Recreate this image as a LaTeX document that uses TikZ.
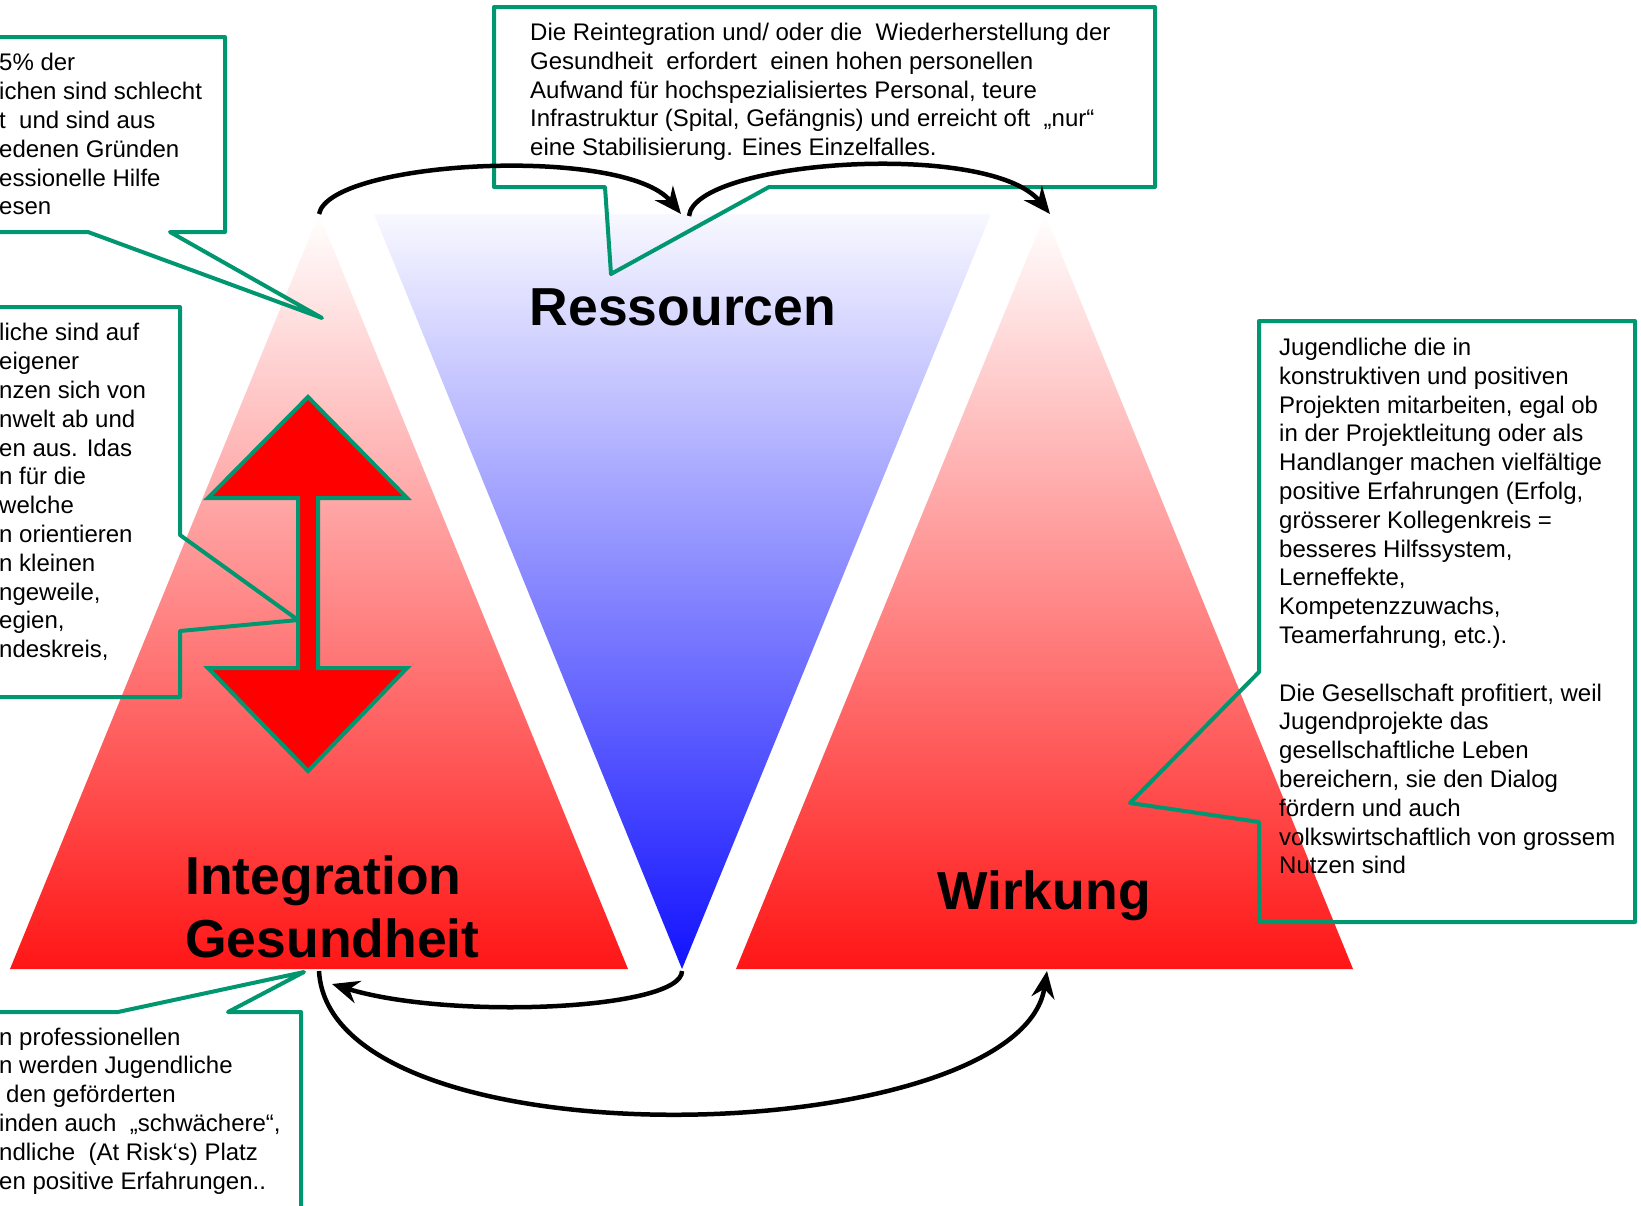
\documentclass[tikz,border=0pt]{standalone}
\usepackage{fontspec}
\setmainfont{Liberation Sans}
\usepackage{tikz}
\usetikzlibrary{arrows.meta}

\definecolor{callgreen}{RGB}{0,150,112}
\definecolor{pyrred}{RGB}{255,22,22}
\definecolor{pyrpink}{RGB}{255,212,212}
\definecolor{pyrblue}{RGB}{18,18,255}
\definecolor{pyrlav}{RGB}{176,176,255}
\definecolor{pyrpale}{RGB}{248,248,255}

\begin{document}
\begin{tikzpicture}[x=1pt,y=-1pt,
  balloon/.style={draw=callgreen,line width=4pt,line join=round},
  note/.style={anchor=north west,inner sep=0pt,align=left,
    font=\fontsize{24}{28.8}\selectfont},
  bigword/.style={anchor=base west,inner sep=0pt,
    font=\fontsize{53.5}{62}\selectfont\bfseries},
  cycarrow/.style={line width=4.5pt,-{Stealth[length=27pt,width=23pt,inset=9pt]}}]
  \useasboundingbox (0,0) rectangle (1641,1205);
  \clip (0,0) rectangle (1641,1205);

  % the three pyramids
  \coordinate (intTop) at (319,214);
  \coordinate (intL) at (10,969);
  \coordinate (intR) at (628,969);
  \coordinate (resL) at (374,214);
  \coordinate (resR) at (991,214);
  \coordinate (resBot) at (682,969);
  \coordinate (wirTop) at (1045,214);
  \coordinate (wirL) at (736,969);
  \coordinate (wirR) at (1353,969);
  \shade[top color=white,middle color=pyrpink,bottom color=pyrred]
    (intTop) -- (intR) -- (intL) -- cycle;
  \shade[top color=pyrpale,middle color=pyrlav,bottom color=pyrblue]
    (resL) -- (resR) -- (resBot) -- cycle;
  \shade[top color=white,middle color=pyrpink,bottom color=pyrred]
    (wirTop) -- (wirR) -- (wirL) -- cycle;

  \node[bigword,anchor=base] (res) at (683,325) {Ressourcen};
  \node[bigword] (integ) at (185,894) {Integration};
  \node[bigword] (gesund) at (185,957) {Gesundheit};
  \node[bigword] (wirk) at (937,909) {Wirkung};

  % double arrow
  \draw[draw=callgreen,line width=4pt,fill=red] (308,397) -- (407,498) -- (318,498)
    -- (318,668) -- (407,668) -- (308,771) -- (208,668) -- (298,668)
    -- (298,498) -- (208,498) -- cycle;

  % callouts
  \coordinate (tipA) at (322,318);
  \coordinate (tipB) at (298,620);
  \coordinate (tipC) at (304,972);
  \coordinate (tipD) at (611,274);
  \coordinate (tipE) at (1130,803);
  \draw[balloon] (-20,37) -- (225,37) -- (225,232) -- (170,232) -- (tipA)
    -- (88,232) -- (-20,232);
  \draw[balloon] (-20,307) -- (180,307) -- (180,535) -- (tipB) -- (180,631)
    -- (180,697) -- (-20,697);
  \draw[balloon] (-20,1012) -- (118,1012) -- (tipC) -- (228,1012) -- (301,1012)
    -- (301,1230);
  \draw[balloon] (494,7) -- (1155,7) -- (1155,187) -- (769,187) -- (tipD)
    -- (605,187) -- (494,187) -- cycle;
  \draw[balloon] (1259,321) -- (1635,321) -- (1635,922) -- (1259,922)
    -- (1259,822) -- (tipE) -- (1259,672) -- cycle;

  \node[note] (txtA) at (-1,50.5) {\strut 5\% der\\ichen sind schlecht\\t\ \ und sind aus\\
    edenen Gründen\\essionelle Hilfe\\esen};
  \node[note] (txtB) at (-1,320.6) {\strut liche sind auf\\eigener\\nzen sich von\\
    nwelt ab und\\en aus. Idas\\n für die\\welche\\n orientieren\\n kleinen\\
    ngeweile,\\egien,\\ndeskreis,};
  \node[note] (txtC) at (-1,1024.8) {\strut n professionellen\\n werden Jugendliche\\
    \hspace*{7pt}den geförderten\\inden auch\ \ „schwächere“,\\
    ndliche\ \ (At Risk‘s) Platz\\en positive Erfahrungen..};
  \node[note] (txtD) at (530,20.2) {\strut Die Reintegration und/ oder die\ \ Wiederherstellung der\\
    Gesundheit\ \ erfordert\ \ einen hohen personellen\\
    Aufwand für hochspezialisiertes Personal, teure\\
    Infrastruktur (Spital, Gefängnis) und erreicht oft\ \ „nur“\\
    eine Stabilisierung. Eines Einzelfalles.};
  \node[note] (txtE) at (1279,335.2) {\strut Jugendliche die in\\konstruktiven und positiven\\
    Projekten mitarbeiten, egal ob\\in der Projektleitung oder als\\
    Handlanger machen vielfältige\\positive Erfahrungen (Erfolg,\\
    grösserer Kollegenkreis =\\besseres Hilfssystem,\\Lerneffekte,\\
    Kompetenzzuwachs,\\Teamerfahrung, etc.).\\[28.8pt]
    Die Gesellschaft profitiert, weil\\Jugendprojekte das\\
    gesellschaftliche Leben\\bereichern, sie den Dialog\\fördern und auch\\
    volkswirtschaftlich von grossem\\Nutzen sind};

  % cycle arrows
  \coordinate (resTopIn) at (681,214);
  \coordinate (resTopOut) at (689,216);
  \coordinate (wirTopIn) at (1050,214);
  \coordinate (resBotOut) at (682,971);
  \coordinate (intBotIn) at (332,984);
  \coordinate (intBotOut) at (319,971);
  \coordinate (wirBotIn) at (1047,971);
  \draw[cycarrow] (intTop) .. controls +(11,-54) and +(-56,-69) .. (resTopIn);
  \draw[cycarrow] (resTopOut) .. controls +(6,-56) and +(-60,-74) .. (wirTopIn);
  \draw[cycarrow] (resBotOut) .. controls +(0,39) and +(117,36) .. (intBotIn);
  \draw[cycarrow] (intBotOut) .. controls +(11,199) and +(-27,179) .. (wirBotIn);
\end{tikzpicture}
\end{document}
